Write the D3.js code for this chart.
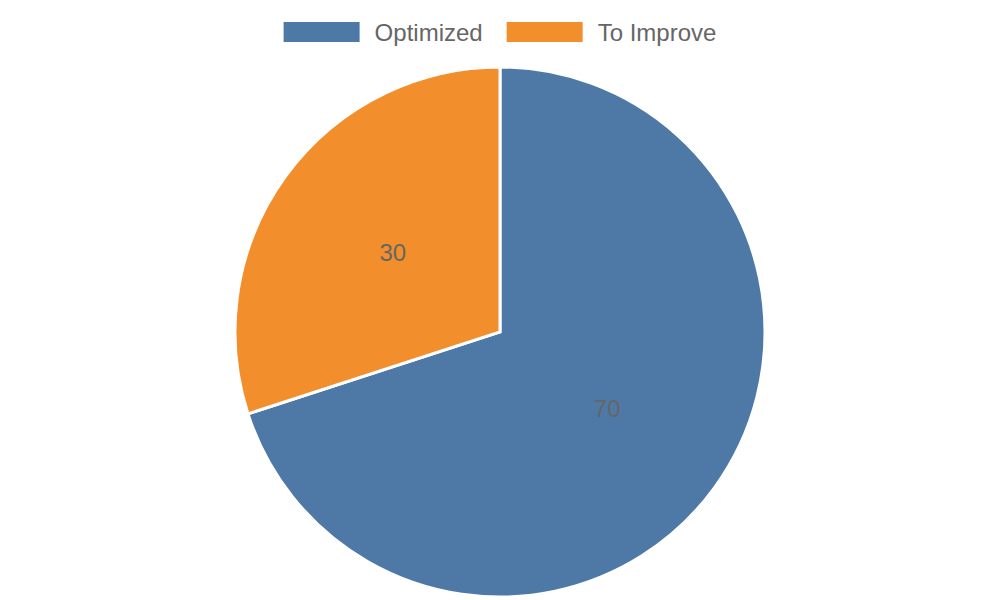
<!DOCTYPE html>
<html lang="en">
<head>
    <meta charset="utf-8">
    <title>Optimization Pie</title>
    <style>
        body { margin: 0; background: #fff; }
        svg text { font-family: "Liberation Sans", Arial, sans-serif; fill: #666; }
    </style>
</head>
<body>
    <svg id="chart" width="1000" height="600"></svg>
</body>
<script src="https://d3js.org/d3.v7.min.js"></script>
<script>
    const categories = ["Optimized", "To Improve"]
    const values = [70, 30]
    const colors = ["#4e79a7", "#f28e2b"]

    const cx = 500, cy = 332, radius = 265

    let svg = d3.select("#chart")

    let pie = d3.pie().sort(null).value(d => d)
    let arcs = pie(values)
    let arc = d3.arc().innerRadius(0).outerRadius(radius)
    let labelArc = d3.arc().innerRadius(radius / 2).outerRadius(radius / 2)

    let g = svg.append("g").attr("transform", `translate(${cx},${cy})`)

    g.selectAll("path")
        .data(arcs)
        .enter()
        .append("path")
        .attr("d", arc)
        .attr("fill", (d, i) => colors[i])
        .attr("stroke", "#fff")
        .attr("stroke-width", 3)
        .attr("stroke-linejoin", "miter")

    g.selectAll("text.val")
        .data(arcs)
        .enter()
        .append("text")
        .attr("class", "val")
        .attr("transform", d => `translate(${labelArc.centroid(d)})`)
        .attr("text-anchor", "middle")
        .attr("dy", "0.3em")
        .style("font-size", "24px")
        .text(d => d.data)

    // legend
    let legend = svg.append("g")
    let boxW = 76, boxH = 20, gap = 15, itemGap = 24
    let items = legend.selectAll("g")
        .data(categories)
        .enter()
        .append("g")
    items.append("rect")
        .attr("width", boxW)
        .attr("height", boxH)
        .attr("fill", (d, i) => colors[i])
    items.append("text")
        .attr("x", boxW + gap)
        .attr("y", boxH / 2)
        .attr("dy", "0.36em")
        .style("font-size", "24px")
        .text(d => d)

    let x = 0
    items.each(function () {
        let w = boxW + gap + this.querySelector("text").getComputedTextLength()
        d3.select(this).attr("transform", `translate(${x},0)`)
        x += w + itemGap
    })
    let total = x - itemGap
    legend.attr("transform", `translate(${(1000 - total) / 2},22)`)
</script>
</html>
